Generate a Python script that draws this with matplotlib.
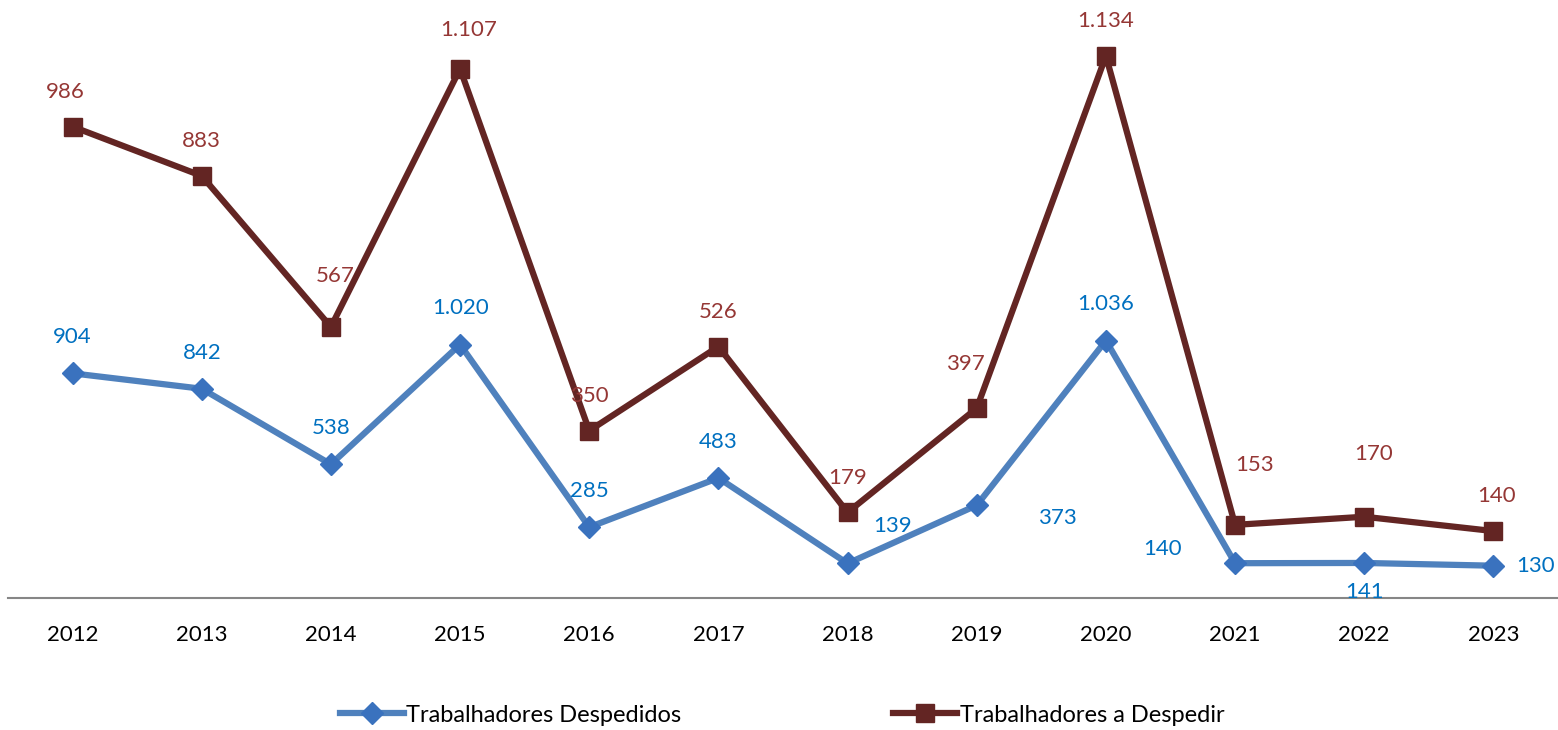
import matplotlib.pyplot as plt
from matplotlib.lines import Line2D

# --- Dados ---
anos = ['2012', '2013', '2014', '2015', '2016', '2017', '2018', '2019', '2020', '2021', '2022', '2023']
despedidos = [904, 842, 538, 1020, 285, 483, 139, 373, 1036, 140, 141, 130]
a_despedir = [986, 883, 567, 1107, 350, 526, 179, 397, 1134, 153, 170, 140]

# deslocamento dos rótulos (pontos): (dx, dy)
off_desp = [(0, 26), (0, 26), (0, 26), (0, 26), (0, 26), (0, 26),
            (32, 27), (58, -9), (0, 26), (-52, 10), (0, -21), (30, 0)]
off_adesp = [(-5, 25), (0, 25), (3, 37), (6, 28), (0, 25), (0, 25),
             (0, 25), (-8, 32), (0, 25), (14, 43), (7, 45), (2, 25)]

def fmt(v):
    return f'{v:,}'.replace(',', '.')

plt.rcParams['font.family'] = ['Lato', 'DejaVu Sans']

fig = plt.figure(figsize=(15.58, 7.30), dpi=100)
ax = fig.add_axes([8 / 1558, 1 - 598 / 730, 1550 / 1558, 588 / 730])
ax2 = ax.twinx()

x = list(range(len(anos)))
azul = '#4F81BD'
vinho = '#632523'

ax.plot(x, despedidos, color=azul, lw=4.5, marker='D', ms=11,
        mfc='#3A72BE', mec='#3A72BE', zorder=3)
ax2.plot(x, a_despedir, color=vinho, lw=4.5, marker='s', ms=13.5,
         mfc=vinho, mec=vinho, zorder=3)

for xi, v, (dx, dy) in zip(x, despedidos, off_desp):
    ax.annotate(fmt(v), (xi, v), xytext=(dx, dy), textcoords='offset points',
                ha='center', va='center', color='#0070C0', fontsize=16)
for xi, v, (dx, dy) in zip(x, a_despedir, off_adesp):
    ax2.annotate(fmt(v), (xi, v), xytext=(dx, dy), textcoords='offset points',
                 ha='center', va='center', color='#953735', fontsize=16)

ax.set_xlim(-0.5, len(anos) - 0.5)
ax.set_ylim(0, 2366)
ax2.set_ylim(0, 1230)

ax.set_xticks(x)
ax.set_xticklabels(anos, fontsize=16)
ax.tick_params(axis='x', length=0, pad=19.5)
ax.set_yticks([])
ax2.set_yticks([])
for a in (ax, ax2):
    for s in ['top', 'right', 'left', 'bottom']:
        a.spines[s].set_visible(False)
ax.spines['bottom'].set_visible(True)
ax.spines['bottom'].set_color('#868686')
ax.spines['bottom'].set_linewidth(1.5)
ax.patch.set_visible(False)

handles = [
    Line2D([], [], color=azul, lw=4.5, marker='D', ms=11, mfc='#3A72BE', mec='#3A72BE'),
    Line2D([], [], color=vinho, lw=4.5, marker='s', ms=13.5, mfc=vinho, mec=vinho),
]
fig.legend(handles, ['Trabalhadores Despedidos', 'Trabalhadores a Despedir'],
           loc='center', bbox_to_anchor=(782 / 1558, 1 - 715 / 730), ncol=2, frameon=False,
           fontsize=17, handlelength=2.7, handletextpad=0.1, columnspacing=9.0)

fig.savefig('out.png', dpi=100)
